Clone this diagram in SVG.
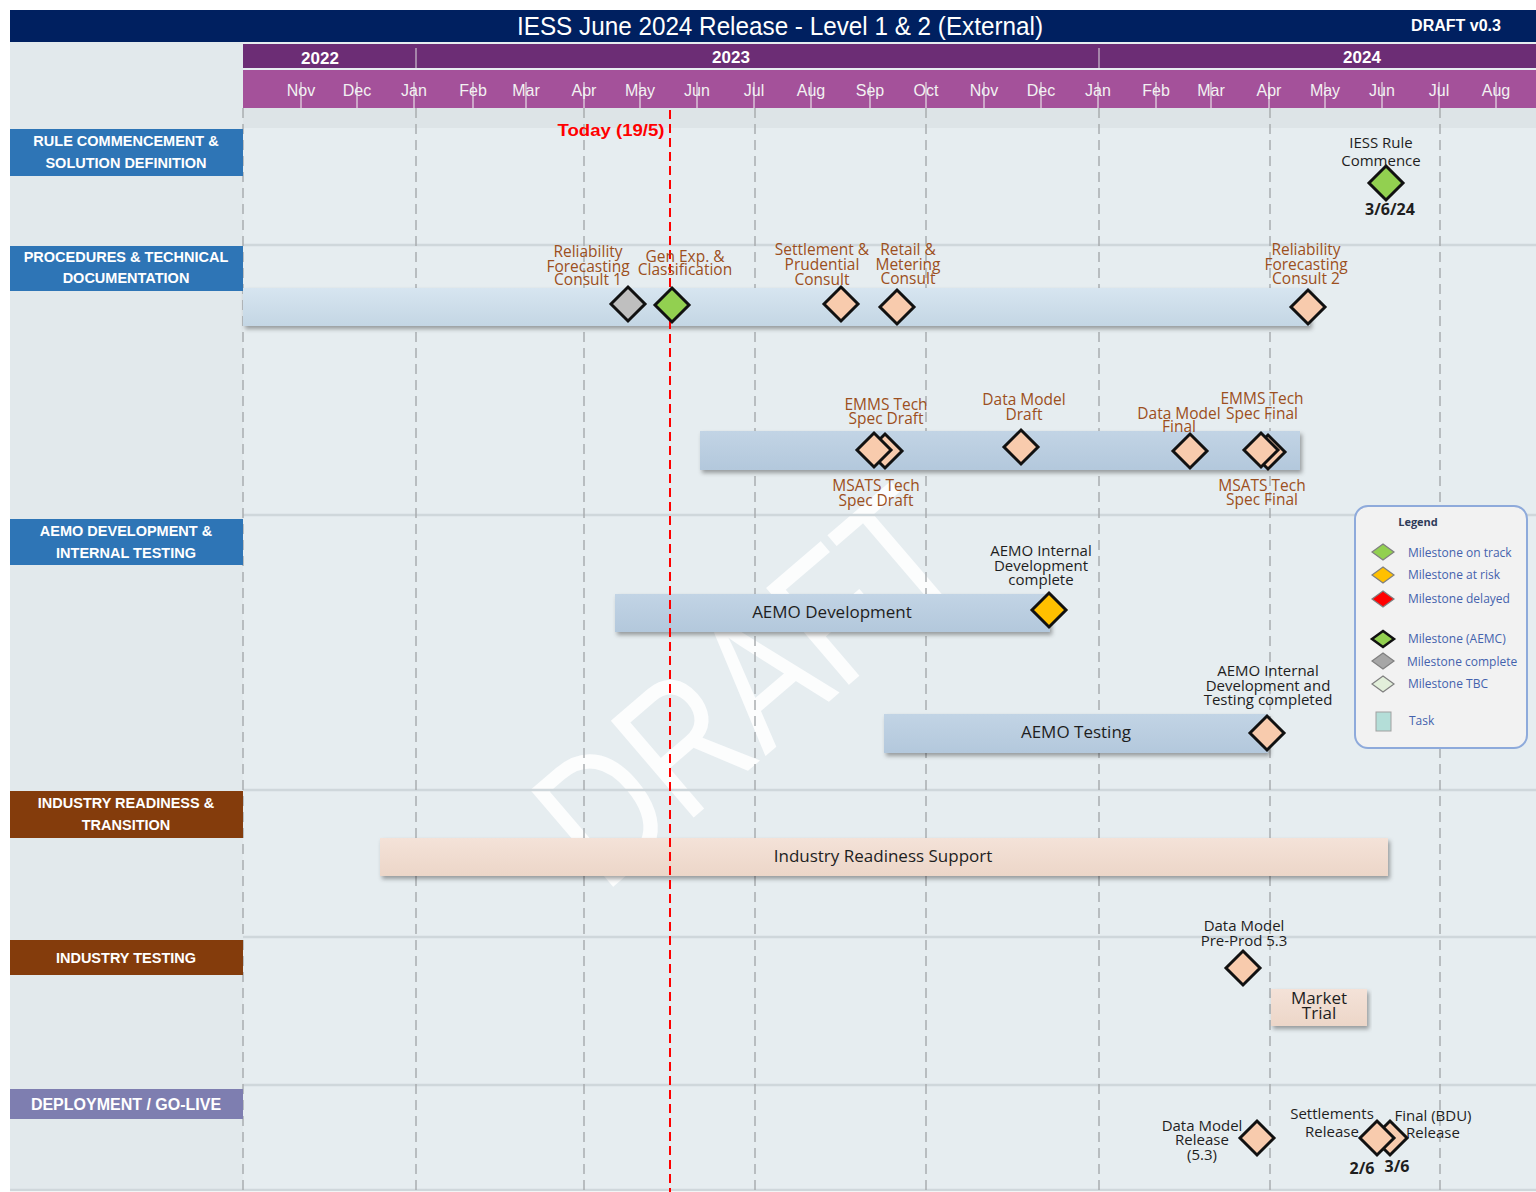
<svg xmlns="http://www.w3.org/2000/svg" xmlns:xlink="http://www.w3.org/1999/xlink" width="1536" height="1192" viewBox="0 0 1536 1192">
<style>
.lbl{font-family:"Liberation Sans",Arial,sans-serif;font-weight:bold;font-size:14.5px;fill:#fff;text-anchor:middle}
.mon{font-family:"Liberation Sans",Arial,sans-serif;font-size:16px;fill:#f2f2f2;text-anchor:middle}
.yr{font-family:"Liberation Sans",Arial,sans-serif;font-weight:bold;font-size:17px;fill:#fff;text-anchor:middle}
.br{font-family:"Open Sans","Liberation Sans",sans-serif;font-size:15.5px;fill:#9c4f20;text-anchor:middle}
.bk{font-family:"Open Sans","Liberation Sans",sans-serif;font-size:15px;fill:#1e1e1e;text-anchor:middle}
.bold{font-family:"Open Sans","Liberation Sans",sans-serif;font-weight:bold;font-size:16px;fill:#1e1e1e;text-anchor:middle}
.bar{font-family:"Open Sans","Liberation Sans",sans-serif;font-size:17px;fill:#1e1e1e;text-anchor:middle}
.grid{stroke:#a9adb0;stroke-width:1.5;stroke-dasharray:10 6;fill:none}
.sep{stroke:#cfd7db;stroke-width:2.5}
.tick{stroke:#d9c3d6;stroke-width:1.5}
.ms{stroke:#111;stroke-width:3;stroke-linejoin:miter}
.peach{fill:#f8cbad}
.green{fill:#92d050}
.grey{fill:#bfbfbf}
.amber{fill:#ffc000}
.leg{font-family:"Open Sans","Liberation Sans",sans-serif;font-size:12px;fill:#4462ad}
.ld{stroke:#7f7f7f;stroke-width:1.2}
</style>
<defs>
<path id="dm" d="M0,-17 L17,0 L0,17 L-17,0 Z"/>
<path id="ldm" d="M0,-8 L11,0 L0,8 L-11,0 Z"/>
<linearGradient id="gBlue1" x1="0" y1="0" x2="0" y2="1"><stop offset="0" stop-color="#d7e5f0"/><stop offset="1" stop-color="#c4d6e4"/></linearGradient>
<linearGradient id="gBlue2" x1="0" y1="0" x2="0" y2="1"><stop offset="0" stop-color="#c2d4e5"/><stop offset="1" stop-color="#b3c8dc"/></linearGradient>
<linearGradient id="gPeach" x1="0" y1="0" x2="0" y2="1"><stop offset="0" stop-color="#f4e2d8"/><stop offset="1" stop-color="#ecd6c8"/></linearGradient>
<filter id="sh" x="-5%" y="-30%" width="110%" height="170%"><feDropShadow dx="2" dy="3" stdDeviation="2" flood-color="#000" flood-opacity="0.35"/></filter>
</defs>

<rect x="0" y="0" width="1536" height="1192" fill="#ffffff"/>
<rect x="10" y="42" width="1526" height="1148" fill="#e6edf0"/>
<rect x="10" y="42" width="233" height="1148" fill="#e2e9ec"/>
<rect x="243" y="108" width="1293" height="20" fill="#dde4e7"/>

<!-- watermark -->
<text transform="translate(790,735) rotate(-40.6)" text-anchor="middle" font-family="Liberation Sans, Arial, sans-serif" font-size="185" fill="#ffffff" opacity="0.9" textLength="490" lengthAdjust="spacingAndGlyphs">DRAFT</text>

<!-- header -->
<g id="header">
<rect x="10" y="10" width="1526" height="32" fill="#002060"/>
<text x="780" y="35" text-anchor="middle" font-family="Liberation Sans, Arial, sans-serif" font-size="25" fill="#fff" textLength="526" lengthAdjust="spacingAndGlyphs">IESS June 2024 Release - Level 1 &amp; 2 (External)</text>
<text x="1456" y="31" text-anchor="middle" font-family="Liberation Sans, Arial, sans-serif" font-weight="bold" font-size="16" fill="#fff">DRAFT v0.3</text>
<rect x="243" y="44" width="1293" height="24" fill="#6c2d75"/>
<line x1="416" y1="48" x2="416" y2="68" stroke="#b9a3bd" stroke-width="1.5"/>
<line x1="1099" y1="48" x2="1099" y2="68" stroke="#b9a3bd" stroke-width="1.5"/>
<text class="yr" x="320" y="64">2022</text>
<text class="yr" x="731" y="63">2023</text>
<text class="yr" x="1362" y="63">2024</text>
<rect x="243" y="70" width="1293" height="38" fill="#a4519a"/>
<g class="tick">
<line x1="301" y1="82" x2="301" y2="108"/><line x1="357" y1="82" x2="357" y2="108"/><line x1="414" y1="82" x2="414" y2="108"/>
<line x1="473" y1="82" x2="473" y2="108"/><line x1="526" y1="82" x2="526" y2="108"/><line x1="584" y1="82" x2="584" y2="108"/>
<line x1="640" y1="82" x2="640" y2="108"/><line x1="697" y1="82" x2="697" y2="108"/><line x1="754" y1="82" x2="754" y2="108"/>
<line x1="811" y1="82" x2="811" y2="108"/><line x1="870" y1="82" x2="870" y2="108"/><line x1="926" y1="82" x2="926" y2="108"/>
<line x1="984" y1="82" x2="984" y2="108"/><line x1="1041" y1="82" x2="1041" y2="108"/><line x1="1098" y1="82" x2="1098" y2="108"/>
<line x1="1156" y1="82" x2="1156" y2="108"/><line x1="1211" y1="82" x2="1211" y2="108"/><line x1="1269" y1="82" x2="1269" y2="108"/>
<line x1="1325" y1="82" x2="1325" y2="108"/><line x1="1382" y1="82" x2="1382" y2="108"/><line x1="1439" y1="82" x2="1439" y2="108"/>
<line x1="1496" y1="82" x2="1496" y2="108"/>
</g>
<text class="mon" x="301" y="96">Nov</text><text class="mon" x="357" y="96">Dec</text><text class="mon" x="414" y="96">Jan</text>
<text class="mon" x="473" y="96">Feb</text><text class="mon" x="526" y="96">Mar</text><text class="mon" x="584" y="96">Apr</text>
<text class="mon" x="640" y="96">May</text><text class="mon" x="697" y="96">Jun</text><text class="mon" x="754" y="96">Jul</text>
<text class="mon" x="811" y="96">Aug</text><text class="mon" x="870" y="96">Sep</text><text class="mon" x="926" y="96">Oct</text>
<text class="mon" x="984" y="96">Nov</text><text class="mon" x="1041" y="96">Dec</text><text class="mon" x="1098" y="96">Jan</text>
<text class="mon" x="1156" y="96">Feb</text><text class="mon" x="1211" y="96">Mar</text><text class="mon" x="1269" y="96">Apr</text>
<text class="mon" x="1325" y="96">May</text><text class="mon" x="1382" y="96">Jun</text><text class="mon" x="1439" y="96">Jul</text>
<text class="mon" x="1496" y="96">Aug</text>
</g>

<!-- grid -->
<g id="grid">
<line class="sep" x1="243" y1="245" x2="1536" y2="245"/>
<line class="sep" x1="243" y1="515" x2="1536" y2="515"/>
<line class="sep" x1="243" y1="790" x2="1536" y2="790"/>
<line class="sep" x1="243" y1="937" x2="1536" y2="937"/>
<line class="sep" x1="243" y1="1085" x2="1536" y2="1085"/>
<line class="sep" x1="10" y1="1190" x2="1536" y2="1190"/>
<line class="grid" x1="243" y1="108" x2="243" y2="1190"/>
<line class="grid" x1="416" y1="108" x2="416" y2="1190"/>
<line class="grid" x1="584" y1="108" x2="584" y2="1190"/>
<line class="grid" x1="755" y1="108" x2="755" y2="1190"/>
<line class="grid" x1="926" y1="108" x2="926" y2="1190"/>
<line class="grid" x1="1099" y1="108" x2="1099" y2="1190"/>
<line class="grid" x1="1270" y1="108" x2="1270" y2="1190"/>
<line class="grid" x1="1440" y1="108" x2="1440" y2="1190"/>
</g>

<!-- row labels -->
<g id="row-rule"><rect x="10" y="129" width="233" height="47" fill="#2e75b6"/><text class="lbl" x="126" y="146">RULE COMMENCEMENT &amp;</text><text class="lbl" x="126" y="168">SOLUTION DEFINITION</text></g>
<g id="row-procedures"><rect x="10" y="246" width="233" height="45" fill="#2e75b6"/><text class="lbl" x="126" y="262">PROCEDURES &amp; TECHNICAL</text><text class="lbl" x="126" y="283">DOCUMENTATION</text></g>
<g id="row-aemo"><rect x="10" y="519" width="233" height="46" fill="#2e75b6"/><text class="lbl" x="126" y="536">AEMO DEVELOPMENT &amp;</text><text class="lbl" x="126" y="558">INTERNAL TESTING</text></g>
<g id="row-readiness"><rect x="10" y="791" width="233" height="47" fill="#843c0c"/><text class="lbl" x="126" y="808">INDUSTRY READINESS &amp;</text><text class="lbl" x="126" y="830">TRANSITION</text></g>
<g id="row-testing"><rect x="10" y="940" width="233" height="35" fill="#843c0c"/><text class="lbl" x="126" y="963">INDUSTRY TESTING</text></g>
<g id="row-deploy"><rect x="10" y="1089" width="233" height="30" fill="#7e7eb0"/><text class="lbl" x="126" y="1110" style="font-size:16px">DEPLOYMENT / GO-LIVE</text></g>

<!-- task bars -->
<g id="bar-procedures"><rect x="243" y="288" width="1067" height="38" fill="url(#gBlue1)" filter="url(#sh)"/></g>
<g id="bar-techspec"><rect x="700" y="431" width="600" height="39" fill="url(#gBlue2)" filter="url(#sh)"/></g>
<g id="bar-aemo-dev"><rect x="615" y="594" width="435" height="38" fill="url(#gBlue2)" filter="url(#sh)"/><text class="bar" x="832" y="618">AEMO Development</text></g>
<g id="bar-aemo-test"><rect x="884" y="714" width="384" height="39" fill="url(#gBlue2)" filter="url(#sh)"/><text class="bar" x="1076" y="738">AEMO Testing</text></g>
<g id="bar-readiness"><rect x="380" y="838" width="1008" height="38" fill="url(#gPeach)" filter="url(#sh)"/><text class="bar" x="883" y="862">Industry Readiness Support</text></g>
<g id="bar-market-trial"><rect x="1271" y="989" width="96" height="37" fill="url(#gPeach)" filter="url(#sh)"/><text class="bar" x="1319" y="1004">Market</text><text class="bar" x="1319" y="1019">Trial</text></g>

<!-- today marker -->
<g id="connectors">
<line x1="670" y1="110" x2="670" y2="1192" stroke="#ff0000" stroke-width="2" stroke-dasharray="9 5"/>
<text x="611" y="136" text-anchor="middle" font-family="Liberation Sans, Arial, sans-serif" font-weight="bold" font-size="17" fill="#ff0000" textLength="107" lengthAdjust="spacingAndGlyphs">Today (19/5)</text>
</g>

<!-- milestones -->
<g id="ms-iess-rule"><use href="#dm" x="1386" y="183" class="ms green"/><text class="bk" x="1381" y="148">IESS Rule</text><text class="bk" x="1381" y="166">Commence</text><text class="bold" x="1390" y="215">3/6/24</text></g>
<g id="ms-rf1"><use href="#dm" x="628" y="304" class="ms grey"/><text class="br" x="588" y="257">Reliability</text><text class="br" x="588" y="272">Forecasting</text><text class="br" x="588" y="285">Consult 1</text></g>
<g id="ms-genexp"><use href="#dm" x="672" y="305" class="ms green"/><text class="br" x="685" y="262">Gen Exp. &amp;</text><text class="br" x="685" y="275">Classification</text></g>
<g id="ms-settlement"><use href="#dm" x="841" y="304" class="ms peach"/><text class="br" x="822" y="255">Settlement &amp;</text><text class="br" x="822" y="270">Prudential</text><text class="br" x="822" y="285">Consult</text></g>
<g id="ms-retail"><use href="#dm" x="897" y="307" class="ms peach"/><text class="br" x="908" y="255">Retail &amp;</text><text class="br" x="908" y="270">Metering</text><text class="br" x="908" y="284">Consult</text></g>
<g id="ms-rf2"><use href="#dm" x="1308" y="307" class="ms peach"/><text class="br" x="1306" y="255">Reliability</text><text class="br" x="1306" y="270">Forecasting</text><text class="br" x="1306" y="284">Consult 2</text></g>
<g id="ms-tech-draft"><use href="#dm" x="885" y="451" class="ms peach"/><use href="#dm" x="874" y="450" class="ms peach"/><text class="br" x="886" y="410">EMMS Tech</text><text class="br" x="886" y="424">Spec Draft</text><text class="br" x="876" y="491">MSATS Tech</text><text class="br" x="876" y="506">Spec Draft</text></g>
<g id="ms-dm-draft"><use href="#dm" x="1021" y="447" class="ms peach"/><text class="br" x="1024" y="405">Data Model</text><text class="br" x="1024" y="420">Draft</text></g>
<g id="ms-dm-final"><use href="#dm" x="1190" y="451" class="ms peach"/><text class="br" x="1179" y="419">Data Model</text><text class="br" x="1179" y="432">Final</text></g>
<g id="ms-tech-final"><use href="#dm" x="1268" y="452" class="ms peach"/><use href="#dm" x="1261" y="450" class="ms peach"/><text class="br" x="1262" y="404">EMMS Tech</text><text class="br" x="1262" y="419">Spec Final</text><text class="br" x="1262" y="491">MSATS Tech</text><text class="br" x="1262" y="505">Spec Final</text></g>
<g id="ms-aemo-dev"><use href="#dm" x="1049" y="610" class="ms amber"/><text class="bk" x="1041" y="556">AEMO Internal</text><text class="bk" x="1041" y="571">Development</text><text class="bk" x="1041" y="585">complete</text></g>
<g id="ms-aemo-test"><use href="#dm" x="1267" y="733" class="ms peach"/><text class="bk" x="1268" y="676">AEMO Internal</text><text class="bk" x="1268" y="691">Development and</text><text class="bk" x="1268" y="705">Testing completed</text></g>
<g id="ms-dm-preprod"><use href="#dm" x="1243" y="968" class="ms peach"/><text class="bk" x="1244" y="931">Data Model</text><text class="bk" x="1244" y="946">Pre-Prod 5.3</text></g>
<g id="ms-dm-release"><use href="#dm" x="1257" y="1138" class="ms peach"/><text class="bk" x="1202" y="1131">Data Model</text><text class="bk" x="1202" y="1145">Release</text><text class="bk" x="1202" y="1160">(5.3)</text></g>
<g id="ms-final-bdu"><use href="#dm" x="1390" y="1138" class="ms peach"/><text class="bk" x="1433" y="1121">Final (BDU)</text><text class="bk" x="1433" y="1138">Release</text><text class="bold" x="1397" y="1172">3/6</text></g>
<g id="ms-settlements"><use href="#dm" x="1377" y="1138" class="ms peach"/><text class="bk" x="1332" y="1119">Settlements</text><text class="bk" x="1332" y="1137">Release</text><text class="bold" x="1362" y="1174">2/6</text></g>

<!-- legend -->
<g id="legend">
<rect x="1355" y="506" width="172" height="242" rx="13" fill="#f2f2f2" stroke="#8eaadb" stroke-width="2"/>
<text x="1418" y="526" text-anchor="middle" font-family="Open Sans, Liberation Sans, sans-serif" font-weight="bold" font-size="11" fill="#2f3b5a">Legend</text>
<use href="#ldm" x="1383" y="552" class="ld" fill="#92d050"/><text class="leg" x="1408" y="557">Milestone on track</text>
<use href="#ldm" x="1383" y="575" class="ld" fill="#ffc000"/><text class="leg" x="1408" y="579">Milestone at risk</text>
<use href="#ldm" x="1383" y="599" class="ld" fill="#ff0000"/><text class="leg" x="1408" y="603">Milestone delayed</text>
<use href="#ldm" x="1383" y="639" fill="#92d050" stroke="#111" stroke-width="2.5"/><text class="leg" x="1408" y="643">Milestone (AEMC)</text>
<use href="#ldm" x="1383" y="661" class="ld" fill="#a6a6a6" stroke-width="1.8"/><text class="leg" x="1407" y="666">Milestone complete</text>
<use href="#ldm" x="1383" y="684" class="ld" fill="#e2efda"/><text class="leg" x="1408" y="688">Milestone TBC</text>
<rect x="1376" y="712" width="15" height="19" fill="#b4ded8" stroke="#a0a0a0" stroke-width="1"/><text class="leg" x="1409" y="725">Task</text>
</g>
</svg>
